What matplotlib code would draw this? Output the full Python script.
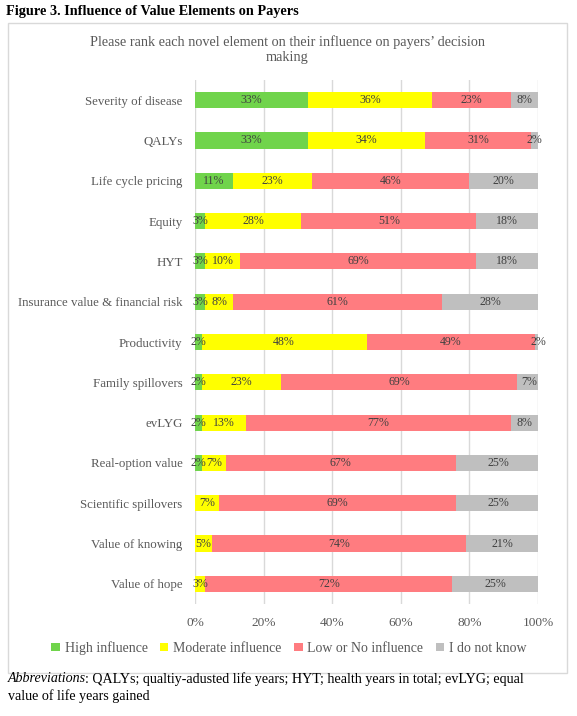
import matplotlib
matplotlib.use("Agg")
import matplotlib.pyplot as plt
from matplotlib.patches import Rectangle
import numpy as np

plt.rcParams['font.family'] = ['Liberation Serif', 'DejaVu Serif']

categories = ["Severity of disease", "QALYs", "Life cycle pricing", "Equity", "HYT",
              "Insurance value & financial risk", "Productivity", "Family spillovers",
              "evLYG", "Real-option value", "Scientific spillovers", "Value of knowing",
              "Value of hope"]
high = [33, 33, 11, 3, 3, 3, 2, 2, 2, 2, 0, 0, 0]
moderate = [36, 34, 23, 28, 10, 8, 48, 23, 13, 7, 7, 5, 3]
low = [23, 31, 46, 51, 69, 61, 49, 69, 77, 67, 69, 74, 72]
unknown = [8, 2, 20, 18, 18, 28, 2, 7, 8, 25, 25, 21, 25]
series_names = ["High influence", "Moderate influence", "Low or No influence", "I do not know"]
colors = ["#70D44B", "#FFFF00", "#FF7C80", "#BFBFBF"]
xticks = [0, 20, 40, 60, 80, 100]

W, H = 577, 716
fig = plt.figure(figsize=(W / 100, H / 100), dpi=100)

# chart border
fig.patches.append(Rectangle((8 / W, 1 - 673 / H), (567 - 8) / W, (673 - 23) / H,
                             transform=fig.transFigure, fill=False,
                             edgecolor="#D9D9D9", linewidth=1))

fig.text(6 / W, 1 - 12 / H, "Figure 3. Influence of Value Elements on Payers",
         fontsize=10.3, fontweight="bold", va="center", ha="left")
fig.text(0.5 * (8 + 567) / W, 1 - 50 / H,
         "Please rank each novel element on their influence on payers\u2019 decision\nmaking",
         fontsize=10.3, color="#595959", ha="center", va="center", linespacing=1.2)

ax = fig.add_axes([195 / W, 1 - 604 / H, (538 - 195) / W, (604 - 80) / H])
y = np.arange(len(categories))
data = [high, moderate, low, unknown]
left = np.zeros(len(categories))
for vals, c, name in zip(data, colors, series_names):
    vals = np.array(vals, dtype=float)
    ax.barh(y, vals, left=left, height=0.4, color=c, label=name, zorder=3)
    for yi, v, l in zip(y, vals, left):
        if v > 0:
            ax.text(l + v / 2, yi, f"{int(v)}%", ha="center", va="center",
                    fontsize=8.6, color="#404040", zorder=4)
    left += vals

ax.set_ylim(len(categories) - 0.5, -0.5)
ax.set_xlim(0, 100)
ax.set_yticks(y)
ax.set_yticklabels(categories, fontsize=9.3, color="#595959")
ax.set_xticks(xticks)
ax.set_xticklabels([f"{t}%" for t in xticks], fontsize=9.6, color="#595959")
ax.tick_params(axis="both", length=0)
ax.tick_params(axis="y", pad=9)
ax.tick_params(axis="x", pad=9)
for s in ax.spines.values():
    s.set_visible(False)
ax.grid(axis="x", color="#D9D9D9", linewidth=1, zorder=0)

handles, labels = ax.get_legend_handles_labels()
fig.legend(handles, labels, loc="center", bbox_to_anchor=(289 / W, 1 - 648 / H),
           ncol=4, frameon=False, fontsize=10, handlelength=0.6, handleheight=0.6,
           handletextpad=0.35, columnspacing=0.9, labelcolor="#595959")

# abbreviations footnote (italic lead word + normal text)
t1 = fig.text(8 / W, 1 - 679 / H, "Abbreviations", fontsize=10.1, style="italic",
              va="center", ha="left")
fig.canvas.draw()
bb = t1.get_window_extent()
x2 = (bb.x1 - 1) / W
fig.text(x2, 1 - 679 / H,
         ": QALYs; qualtiy-adusted life years; HYT; health years in total; evLYG; equal",
         fontsize=10.1, va="center", ha="left")
fig.text(8 / W, 1 - 696 / H, "value of life years gained", fontsize=10.1,
         va="center", ha="left")
fig.savefig("out.png", dpi=100)
